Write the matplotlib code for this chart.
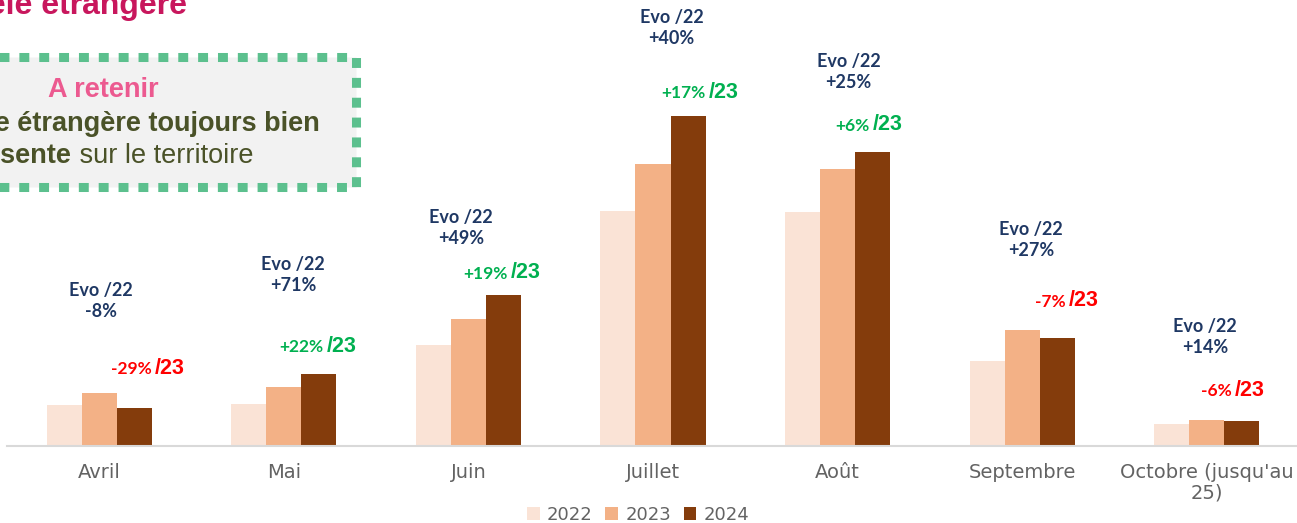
import numpy as np
import matplotlib.pyplot as plt
from matplotlib.patches import Rectangle, Patch

# data (bar heights, arbitrary units)
months = ["Avril", "Mai", "Juin", "Juillet", "Août", "Septembre", "Octobre (jusqu'au\n25)"]
years = ["2022", "2023", "2024"]
v2022 = [41, 42, 101, 235, 234, 85, 22]
v2023 = [53, 59, 127, 282, 277, 116, 26.5]
v2024 = [38, 72, 151, 330, 294, 108, 25]
evo22 = ["-8%", "+71%", "+49%", "+40%", "+25%", "+27%", "+14%"]
evo23 = ["-29%", "+22%", "+19%", "+17%", "+6%", "-7%", "-6%"]

colors = ["#FAE3D6", "#F3B186", "#843C0C"]
navy = "#1F3864"
green = "#00B050"
red = "#FF0000"

# label placement tweaks (offsets above the 2024 bar / from group center)
evo_dy = [107, 99, 67, 88, 80, 98, 84]
evo_dx = [0.01, 0.05, -0.04, 0.10, 0.06, 0.05, -0.01]
v23_dy = [39, 27, 21, 23, 26, 36, 30]
v23_dx = [0.11, 0.04, 0.04, 0.11, 0.0, 0.06, -0.04]

W, H = 1297, 523
fig = plt.figure(figsize=(W / 100, H / 100), dpi=100)
ax = fig.add_axes([7 / W, (H - 446) / H, 1292 / W, 446 / H])

x = np.arange(len(months))
bw = 0.19
for i, (vals, c) in enumerate(zip([v2022, v2023, v2024], colors)):
    ax.bar(x + (i - 1) * bw, vals, width=bw, color=c, label=years[i], zorder=2)

ax.set_xlim(-0.5, len(months) - 0.5)
ax.set_ylim(0, 446)
for s in ["top", "right", "left"]:
    ax.spines[s].set_visible(False)
ax.spines["bottom"].set_color("#D9D9D9")
ax.spines["bottom"].set_linewidth(1.5)
ax.set_yticks([])
ax.set_xticks(x)
ax.set_xticklabels(months, fontsize=14, color="#636363", family="DejaVu Sans",
                   linespacing=1.15)
ax.tick_params(axis="x", length=0, pad=12)

lab_font = ["Lato", "DejaVu Sans"]
for i in range(len(months)):
    top = v2024[i]
    xc = x[i] + bw
    ax.text(x[i] + evo_dx[i], top + evo_dy[i], "Evo /22\n" + evo22[i], ha="center",
            va="center", color=navy, fontsize=13, fontweight="bold",
            family=lab_font, linespacing=1.35)
    col = green if evo23[i].startswith("+") else red
    ax.text(xc + v23_dx[i] - 0.015, top + v23_dy[i], evo23[i], ha="right", va="center",
            color=col, fontsize=12.5, fontweight="bold", family=lab_font)
    ax.text(xc + v23_dx[i], top + v23_dy[i] + 1, "/23", ha="left", va="center",
            color=col, fontsize=15.5, fontweight="bold", family="Liberation Sans")

# legend
handles = [Patch(facecolor=c, edgecolor="none") for c in colors]
leg = fig.legend(handles, years, loc="center", bbox_to_anchor=(0.492, 0.016),
                 ncol=3, frameon=False, handlelength=0.7, handleheight=0.7,
                 handletextpad=0.4, columnspacing=0.7,
                 prop={"family": "DejaVu Sans", "size": 13})
for t in leg.get_texts():
    t.set_color("#636363")

# title (cropped on the left in the source)
fig.text(187 / W, 1 - 14 / H, "Clientèle étrangère", ha="right", va="baseline",
         color="#C8175D", fontsize=23, fontweight="bold", family="Liberation Sans")

# "A retenir" box
box = Rectangle((-160 / W, 1 - 187 / H), (356 + 160) / W, 130 / H,
                transform=fig.transFigure, facecolor="#F2F2F2",
                edgecolor="#5CC08E", linewidth=6.5, linestyle=(0, (1.1, 1.1)),
                zorder=1)
fig.patches.append(box)

olive = "#4A5228"
fs = 19.5
fig.text(103 / W, 1 - 97 / H, "A retenir", ha="center", va="baseline", color="#EC5A90",
         fontsize=fs, fontweight="bold", family="Liberation Sans")
fig.text(320 / W, 1 - 131 / H, "Clientèle étrangère toujours bien", ha="right",
         va="baseline", color=olive, fontsize=fs, fontweight="bold",
         family="Liberation Sans")
# line 3: bold + regular pieces, ending where the source line ends
r = fig.canvas.get_renderer()
a = fig.text(0, 1 - 163 / H, "présente", va="baseline", color=olive,
             fontsize=fs, fontweight="bold", family="Liberation Sans")
b = fig.text(253 / W, 1 - 163 / H, " sur le territoire", ha="right", va="baseline",
             color=olive, fontsize=fs, family="Liberation Sans")
wa = a.get_window_extent(r).width
wb = b.get_window_extent(r).width
a.set_x((253 - wb - wa) / W)

fig.savefig("out.png", dpi=100)
